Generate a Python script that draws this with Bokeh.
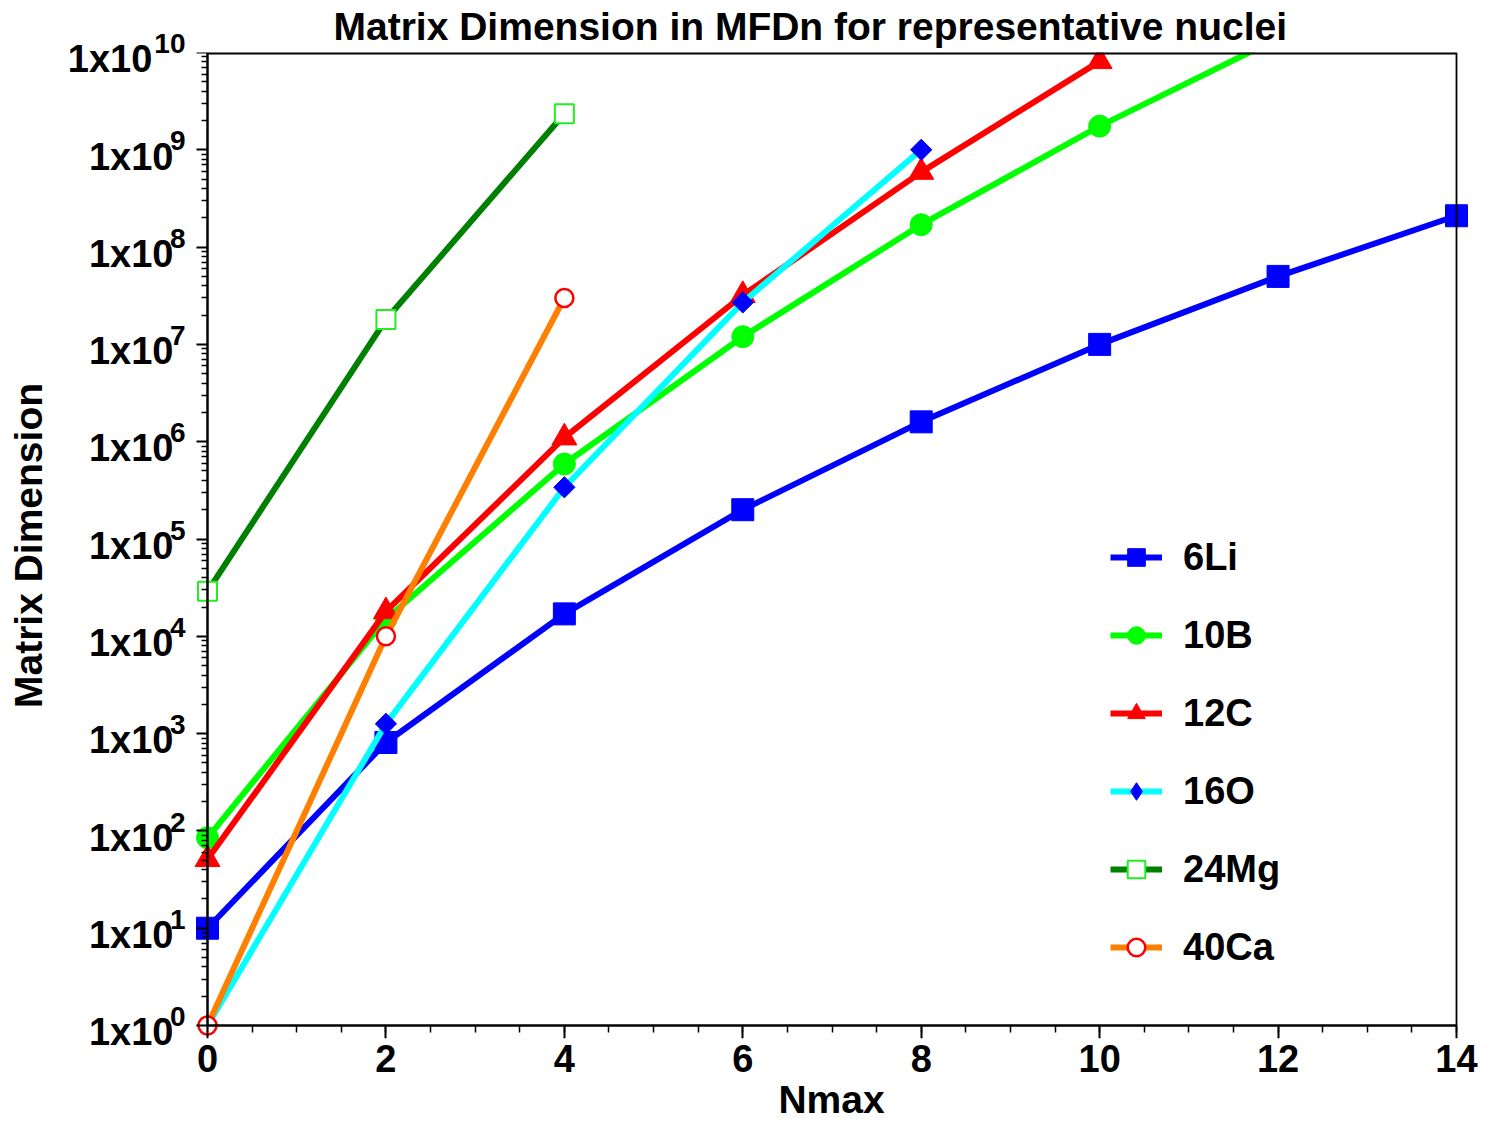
import numpy as np
from bokeh.plotting import figure
from bokeh.models import (LinearAxis, LogAxis, FixedTicker, SingleIntervalTicker,
                          Legend, LegendItem, Range1d, CustomJSTickFormatter)
from bokeh.embed import file_html
from bokeh.resources import INLINE

# ---------------- data ----------------
nmax_6li = [0, 2, 4, 6, 8, 10, 12, 14]
dim_6li = [10, 810, 1.7e4, 2.0e5, 1.6e6, 1.0e7, 5.0e7, 2.1e8]

nmax_10b = [0, 2, 4, 6, 8, 10, 12]
dim_10b = [85, 1.5e4, 5.9e5, 1.2e7, 1.7e8, 1.75e9, 1.4e10]

nmax_12c = [0, 2, 4, 6, 8, 10]
dim_12c = [51, 1.8e4, 1.1e6, 3.2e7, 5.9e8, 8.1e9]

nmax_16o = [0, 2, 4, 6, 8]
dim_16o = [1, 1.26e3, 3.4e5, 2.7e7, 1.0e9]

nmax_24mg = [0, 2, 4]
dim_24mg = [2.9e4, 1.8e7, 2.35e9]

nmax_40ca = [0, 2, 4]
dim_40ca = [1, 1.0e4, 3.0e7]

series_names = ["6Li", "10B", "12C", "16O", "24Mg", "40Ca"]
series_x = [nmax_6li, nmax_10b, nmax_12c, nmax_16o, nmax_24mg, nmax_40ca]
series_y = [dim_6li, dim_10b, dim_12c, dim_16o, dim_24mg, dim_40ca]

x_tick_values = [0, 2, 4, 6, 8, 10, 12, 14]
y_tick_exponents = list(range(0, 11))
y_tick_mantissa_label = "1x10"

title_text = "Matrix Dimension in MFDn for representative nuclei"
x_label = "Nmax"
y_label = "Matrix Dimension"

# ---------------- styles ----------------
styles = {
    "6Li":  dict(line="#0000ff", lw=6, marker="square",   size=22, fill="#0000ff", mline="#0000ff", mlw=1,   angle=0.0,       legend_marker="square"),
    "10B":  dict(line="#00ff00", lw=6, marker="circle",   size=22, fill="#00ff00", mline="#00ff00", mlw=1,   angle=0.0,       legend_marker="circle"),
    "12C":  dict(line="#ff0000", lw=6, marker="triangle", size=25, fill="#ff0000", mline="#ff0000", mlw=1,   angle=0.0,       legend_marker="triangle"),
    "16O":  dict(line="#00ffff", lw=6, marker="square",   size=15, fill="#0000ff", mline="#0000ff", mlw=1,   angle=np.pi / 4, legend_marker="diamond"),
    "24Mg": dict(line="#008000", lw=6, marker="square",   size=19, fill="#ffffff", mline="#22ee22", mlw=2,   angle=0.0,       legend_marker="square"),
    "40Ca": dict(line="#ff8000", lw=6, marker="circle",   size=18, fill="#ffffff", mline="#ff0000", mlw=2.5, angle=0.0,       legend_marker="circle"),
}

FONT = "Liberation Sans"
W, H = 1495, 1123
AX_L, AX_R, AX_T, AX_B = 207, 1456, 52, 1026      # where x=0, x=14, y=1e10, y=1 sit
PAD_L, PAD_R, PAD_B = 13, 12, 13                   # room so edge markers are not cut
FR_L, FR_R, FR_B = AX_L - PAD_L, AX_R + PAD_R, AX_B + PAD_B
ppu = (AX_R - AX_L) / 14.0
ppd = (AX_B - AX_T) / 10.0
SUP_SIZE = 28
MAIN_SIZE = 38

p = figure(width=W, height=H, y_axis_type="log",
           x_range=Range1d(-PAD_L / ppu, 14 + PAD_R / ppu),
           y_range=Range1d(10 ** (-PAD_B / ppd), 1e10),
           toolbar_location=None, output_backend="svg",
           min_border_left=FR_L, min_border_right=W - FR_R,
           min_border_top=AX_T, min_border_bottom=H - FR_B,
           background_fill_color="white", border_fill_color="white")
p.outline_line_color = None
p.xgrid.visible = False
p.ygrid.visible = False

p.title.text = title_text
p.title.align = "left"
p.title.offset = 333 - FR_L
p.title.text_font = FONT
p.title.text_font_size = "39px"
p.title.text_font_style = "bold"
p.title.text_color = "black"
p.title.vertical_align = "top"
p.title.standoff = 5

empty_fmt = CustomJSTickFormatter(code="return ''")
y_major = [10.0 ** e for e in y_tick_exponents]
y_minor = [m * 10.0 ** e for e in y_tick_exponents[:-1] for m in range(2, 10)]

# ---- label-only axes in the side panels ----
xa = p.xaxis[0]
xa.ticker = SingleIntervalTicker(interval=2, num_minor_ticks=4)
xa.axis_label = x_label
xa.major_label_standoff = 6
xa.axis_label_standoff = 3

ya = p.yaxis[0]     # superscript exponents
ya.ticker = FixedTicker(ticks=y_major, minor_ticks=[])
ya.major_label_overrides = {10.0 ** e: str(e) + "\n" for e in y_tick_exponents}
ya.major_label_standoff = 9
ya.major_label_text_font_size = f"{SUP_SIZE}px"
ya.major_label_text_line_height = 0.57

yb = LogAxis(ticker=FixedTicker(ticks=y_major, minor_ticks=[]))   # "1x10" mantissas + title
yb.major_label_overrides = {10.0 ** e: "\n" + y_tick_mantissa_label + ("\u2007" if len(str(e)) > 1 else "")
                            for e in y_tick_exponents}
yb.major_label_standoff = -22
yb.major_label_text_font_size = f"{MAIN_SIZE}px"
yb.major_label_text_line_height = 0.32
yb.axis_label = y_label
yb.axis_label_standoff = 15
p.add_layout(yb, "left")

for ax in (xa, ya, yb):
    ax.axis_line_color = None
    ax.major_tick_line_color = None
    ax.minor_tick_line_color = None
    ax.major_tick_out = 0
    ax.minor_tick_out = 0
    ax.major_tick_in = 0
    ax.minor_tick_in = 0
    ax.major_label_text_font = FONT
    ax.major_label_text_font_style = "bold"
    ax.major_label_text_color = "black"
    ax.axis_label_text_font = FONT
    ax.axis_label_text_font_style = "bold"
    ax.axis_label_text_font_size = "39px"
    ax.axis_label_text_color = "black"
xa.major_label_text_font_size = f"{MAIN_SIZE}px"

# ---- axis lines and ticks placed at the data edges (x=0, y=1), plus top/right borders ----
fx = LinearAxis(fixed_location=1, bounds=(0, 14),
                ticker=SingleIntervalTicker(interval=2, num_minor_ticks=4), formatter=empty_fmt,
                major_tick_out=13, minor_tick_out=7)
fy = LogAxis(fixed_location=0, bounds=(1, 1e10),
             ticker=FixedTicker(ticks=y_major, minor_ticks=y_minor), formatter=empty_fmt,
             major_tick_out=11, minor_tick_out=6)
for ax in (fx, fy):
    ax.axis_line_width = 2.5
    ax.major_tick_line_width = 2
    ax.minor_tick_line_width = 1.5
    ax.major_tick_in = 0
    ax.minor_tick_in = 0
p.add_layout(fx, "below")
p.add_layout(fy, "left")

ftop = LinearAxis(fixed_location=1e10, bounds=(0, 14), ticker=FixedTicker(ticks=[]),
                  formatter=empty_fmt, major_tick_line_color=None, minor_tick_line_color=None,
                  axis_line_width=4)
fright = LinearAxis(fixed_location=14, bounds=(1, 1e10), ticker=FixedTicker(ticks=[]),
                    formatter=empty_fmt, major_tick_line_color=None, minor_tick_line_color=None,
                    axis_line_width=1.8)
p.add_layout(ftop, "above")
p.add_layout(fright, "right")

# ---------------- series ----------------
items = []
for name, xs, ys in zip(series_names, series_x, series_y):
    s = styles[name]
    lr = p.line(xs, ys, line_color=s["line"], line_width=s["lw"])
    sr = p.scatter(xs, ys, marker=s["marker"], size=s["size"], angle=s["angle"],
                   fill_color=s["fill"], line_color=s["mline"], line_width=s["mlw"])
    rends = [lr, sr]
    if s["legend_marker"] != s["marker"]:
        proxy = p.scatter(xs, ys, marker=s["legend_marker"], size=s["size"],
                          fill_color=s["fill"], line_color=s["mline"], line_width=s["mlw"],
                          visible=False)
        rends = [lr, proxy]
    items.append(LegendItem(label=name, renderers=rends))

legend = Legend(items=items, location=(1110 - FR_L, FR_B - 970),
                glyph_width=52, glyph_height=44, label_height=44, spacing=34,
                padding=0, margin=0, label_standoff=21,
                border_line_color=None, background_fill_alpha=0,
                label_text_font=FONT, label_text_font_style="bold",
                label_text_font_size="38px", label_text_color="black")
p.add_layout(legend)

open("out.html", "w").write(file_html(p, INLINE))
